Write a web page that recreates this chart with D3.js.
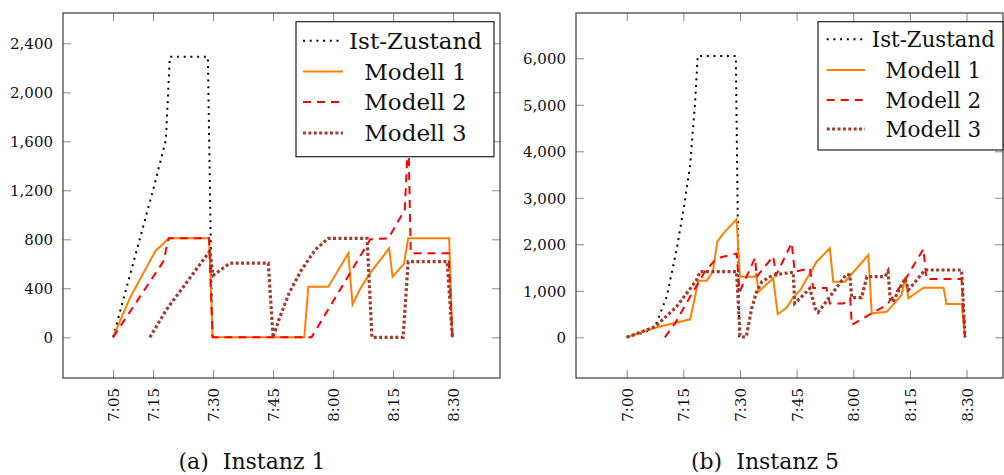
<!DOCTYPE html>
<html>
<head>
<meta charset="utf-8">
<script src="https://cdn.jsdelivr.net/npm/d3@7"></script>
<style>
  html, body { margin: 0; padding: 0; background: #fff; }
  svg { display: block; }
  svg text { font-family: "DejaVu Serif", serif; fill: #111; }
</style>
</head>
<body>
<svg id="chart" width="1004" height="475"></svg>
<script>
// minutes after 7:00 -> value

// Instanz 1
const inst1Ist = [[5,0],[10,600],[15,1200],[18.2,1610],[19.2,2290],[28.7,2290],[29.8,0]];
const inst1M1 = [[5,0],[9.2,320],[15.6,705],[19,808],[29,808],[29.9,0],[52.8,0],[53.8,413],[58.8,413],
  [63.8,686],[64.85,268],[66.85,400],[69.2,522],[74,726],[74.85,495],[77.7,600],[78.75,808],[89,808],[89.8,0]];
const inst1M2 = [[5,0],[17.6,620],[18.9,808],[29,808],[29.9,0],[54.6,0],[69.3,800],[73.8,808],[77.9,1040],
  [78.8,1650],[79.4,686],[88.8,686],[89.8,0]];
const inst1M3 = [[14.2,0],[18.3,223],[29.2,705],[30,505],[34.2,605],[43.8,605],[45,0],[46.5,150],[49,360],
  [52,545],[55.5,713],[58.75,808],[68.5,808],[69.7,0],[77.5,0],[78.75,617],[88.5,617],[89.8,0]];

// Instanz 5
const inst5Ist = [[0,0],[5,110],[7.5,228],[10.6,873],[13.2,1877],[15.25,2845],[16.8,3705],[18.1,5032],
  [18.8,6050],[28.9,6050],[29.8,0]];
const inst5M1 = [[0,0],[7.5,206],[16.8,387],[19,1218],[21.2,1218],[22.8,1411],[24,2056],[25.6,2236],[29.1,2538],
  [30,1303],[34,1303],[34.3,1377],[34.9,980],[38.8,1269],[40,495],[42.4,640],[44.1,860],[46,1020],[50.3,1626],
  [53.8,1914],[54.7,1196],[57.8,1196],[64,1770],[64.9,516],[68.9,551],[72.8,910],[73.8,1300],[74.6,838],
  [78.6,1068],[83.9,1068],[84.7,716],[88.7,716],[89.6,0]];
const inst5M2 = [[10.1,0],[12.8,300],[16.8,873],[20.7,1411],[23.8,1699],[29.1,1800],[29.9,980],[34,1710],
  [34.4,1300],[38.8,1740],[39.6,1340],[43.7,2030],[44.5,1411],[48.5,1484],[49.4,1060],[52.9,1060],[53.8,725],
  [57.4,725],[59.2,840],[59.6,265],[64.9,516],[68.9,695],[73.7,1232],[78.6,1900],[79.4,1254],[88.7,1254],[89.6,0]];
const inst5M3 = [[0,0],[7.5,228],[13.2,658],[18.5,1232],[19.4,1411],[29.1,1411],[30,50],[30.4,0],[31.7,20],
  [33.1,624],[34.4,980],[35.8,1196],[38.8,1340],[44.1,1400],[44.5,731],[45.9,838],[48.5,1054],[49.9,624],
  [50.7,537],[53.8,873],[58.2,1355],[59.1,1340],[59.6,852],[62.2,852],[63.6,1303],[68.4,1303],[69.2,1420],
  [69.8,830],[70.5,760],[73.7,1269],[74.6,1017],[79,1447],[88.7,1447],[89.6,0]];

// ticks
const inst1XTicks = [5, 15, 30, 45, 60, 75, 90];
const inst5XTicks = [0, 15, 30, 45, 60, 75, 90];
const inst1YTicks = [0, 400, 800, 1200, 1600, 2000, 2400];
const inst5YTicks = [0, 1000, 2000, 3000, 4000, 5000, 6000];

const seriesNames = ['Ist-Zustand', 'Modell 1', 'Modell 2', 'Modell 3'];

const FONT = '"DejaVu Serif", serif';

// line styles (Ist, M1, M2, M3)
const STYLES = [
  { color: '#000000', width: 2.0, dash: '2 4.7', cap: 'butt' },
  { color: '#ff8000', width: 2.0, dash: null, cap: 'butt' },
  { color: '#ff0000', width: 2.0, dash: '8 6', cap: 'butt' },
  { color: '#a23b2c', width: 3.2, dash: '3 2.4', cap: 'butt' }
];

const svg = d3.select('#chart');

function timeLabel(m) {
  const h = 7 + Math.floor(m / 60);
  const mm = m % 60;
  return h + ':' + (mm < 10 ? '0' + mm : mm);
}

/**
 * Draw one pgfplots-like panel
 */
function drawPanel(cfg) {
  const { id, box, xDomain, yDomain, xTicks, yTicks, series, legend, caption } = cfg;
  const x = d3.scaleLinear().domain(xDomain).range([box.x0, box.x1]);
  const y = d3.scaleLinear().domain(yDomain).range([box.y1, box.y0]);

  const g = svg.append('g');

  svg.append('clipPath').attr('id', 'clip-' + id)
    .append('rect')
    .attr('x', box.x0).attr('y', box.y0)
    .attr('width', box.x1 - box.x0).attr('height', box.y1 - box.y0);

  // ticks (inward, mirrored)
  const tickCol = '#8a8a8a';
  const axB = g.append('g').attr('transform', `translate(0,${box.y1})`)
    .call(d3.axisBottom(x).tickValues(xTicks).tickSize(-8).tickPadding(10).tickFormat(timeLabel));
  const axT = g.append('g').attr('transform', `translate(0,${box.y0})`)
    .call(d3.axisTop(x).tickValues(xTicks).tickSize(-8).tickFormat(''));
  const axL = g.append('g').attr('transform', `translate(${box.x0},0)`)
    .call(d3.axisLeft(y).tickValues(yTicks).tickSize(-8).tickPadding(10).tickFormat(d3.format(',')));
  const axR = g.append('g').attr('transform', `translate(${box.x1},0)`)
    .call(d3.axisRight(y).tickValues(yTicks).tickSize(-8).tickFormat(''));

  [axB, axT, axL, axR].forEach(a => {
    a.attr('font-family', FONT);
    a.select('.domain').remove();
    a.selectAll('line').attr('stroke', tickCol).attr('stroke-width', 1);
    a.selectAll('text').attr('font-size', 15).attr('fill', '#111');
  });

  // rotated x labels
  axB.selectAll('text')
    .attr('text-anchor', 'end')
    .attr('dy', null)
    .attr('y', 0)
    .attr('transform', 'translate(5.5,10) rotate(-90)');
  axL.selectAll('text').attr('dy', '0.35em');

  // lines
  const line = d3.line().x(d => x(d[0])).y(d => y(d[1]));
  const lg = g.append('g').attr('clip-path', `url(#clip-${id})`);
  series.forEach((s, i) => {
    const st = STYLES[i];
    lg.append('path')
      .datum(s)
      .attr('d', line)
      .attr('fill', 'none')
      .attr('stroke', st.color)
      .attr('stroke-width', st.width)
      .attr('stroke-linecap', st.cap)
      .attr('stroke-linejoin', 'miter')
      .attr('stroke-dasharray', st.dash);
  });

  // frame
  g.append('rect')
    .attr('x', box.x0).attr('y', box.y0)
    .attr('width', box.x1 - box.x0).attr('height', box.y1 - box.y0)
    .attr('fill', 'none').attr('stroke', '#3a3a3a').attr('stroke-width', 1.2);

  // legend
  const L = legend;
  g.append('rect')
    .attr('x', L.x0).attr('y', L.y0)
    .attr('width', L.x1 - L.x0).attr('height', L.y1 - L.y0)
    .attr('fill', '#fff').attr('stroke', '#222').attr('stroke-width', 1.2);
  seriesNames.forEach((name, i) => {
    const st = STYLES[i];
    const ry = L.rows[i];
    g.append('line')
      .attr('x1', L.lx0).attr('x2', L.lx1).attr('y1', ry).attr('y2', ry)
      .attr('stroke', st.color).attr('stroke-width', st.width)
      .attr('stroke-dasharray', st.dash);
    const t = g.append('text')
      .attr('x', L.textCx).attr('y', ry + L.size * 0.36)
      .attr('text-anchor', 'middle')
      .attr('font-family', FONT)
      .attr('font-size', L.size)
      .text(name);
    if (i === 0) t.attr('textLength', L.istWidth).attr('lengthAdjust', 'spacingAndGlyphs');
  });

  // caption
  svg.append('text')
    .attr('x', caption.cx).attr('y', caption.y)
    .attr('text-anchor', 'middle')
    .attr('font-family', FONT)
    .attr('font-size', 22)
    .attr('xml:space', 'preserve')
    .text(caption.text);
}

drawPanel({
  id: 'a',
  box: { x0: 63, x1: 500, y0: 13, y1: 378 },
  xDomain: [-7.5, 101.7],
  yDomain: [-332, 2647],
  xTicks: inst1XTicks,
  yTicks: inst1YTicks,
  series: [inst1Ist, inst1M1, inst1M2, inst1M3],
  legend: { x0: 296, x1: 494, y0: 21.7, y1: 156.7, lx0: 303, lx1: 343,
            rows: [40.7, 71.5, 102, 133], textCx: 415.5, size: 23, istWidth: 133 },
  caption: { text: '(a)  Instanz 1', cx: 252, y: 469 }
});

drawPanel({
  id: 'b',
  box: { x0: 576, x1: 1003, y0: 13, y1: 378 },
  xDomain: [-13.43, 99.66],
  yDomain: [-875, 6974],
  xTicks: inst5XTicks,
  yTicks: inst5YTicks,
  series: [inst5Ist, inst5M1, inst5M2, inst5M3],
  legend: { x0: 818, x1: 1003, y0: 21.7, y1: 150, lx0: 826.7, lx1: 865,
            rows: [39.3, 70, 100, 129], textCx: 933.3, size: 21.5, istWidth: 123 },
  caption: { text: '(b)  Instanz 5', cx: 765, y: 469 }
});
</script>
</body>
</html>
